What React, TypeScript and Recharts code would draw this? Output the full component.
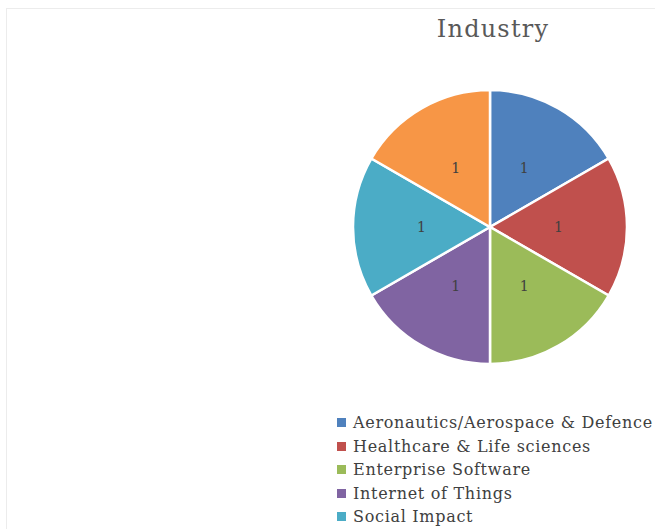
import * as React from "react"
import { PieChart, Pie, Cell } from "recharts"

const categories = [
  "Aeronautics/Aerospace & Defence",
  "Healthcare & Life sciences",
  "Enterprise Software",
  "Internet of Things",
  "Social Impact",
  "Fintech",
]
const counts = [1, 1, 1, 1, 1, 1]
const colors = ["#4F81BD", "#C0504D", "#9BBB59", "#8064A2", "#4BACC6", "#F79646"]

const data = categories.map((name, i) => ({ name, value: counts[i], color: colors[i] }))

const RAD = Math.PI / 180

function renderLabel(props: any) {
  const { cx, cy, midAngle, outerRadius, value } = props
  const r = outerRadius * 0.5
  const x = cx + r * Math.cos(-midAngle * RAD)
  const y = cy + r * Math.sin(-midAngle * RAD)
  return (
    <text x={x} y={y} fill="#404040" fontSize={14} fontFamily="DejaVu Serif" textAnchor="middle" dominantBaseline="central">
      {value}
    </text>
  )
}

// legend drawn as plain html so it doesn't shift the pie
function LegendList() {
  return (
    <div
      style={{
        position: "absolute",
        left: 337,
        top: 411,
        fontFamily: "DejaVu Serif",
        fontSize: 16,
        letterSpacing: 0.7,
        color: "#404040",
        whiteSpace: "nowrap",
      }}
    >
      {data.map((d) => (
        <div key={d.name} style={{ display: "flex", alignItems: "center", height: 23.5 }}>
          <div style={{ width: 9, height: 9, background: d.color, marginRight: 7 }} />
          <span>{d.name}</span>
        </div>
      ))}
    </div>
  )
}

export default function App() {
  return (
    <div style={{ position: "absolute", left: 0, top: 0, width: 655, height: 529, overflow: "hidden", background: "#fff" }}>
      <div style={{ position: "absolute", left: 6, top: 8, width: 660, height: 560, borderTop: "1px solid #ececec", borderLeft: "1px solid #ececec" }} />
      <PieChart width={655} height={529} style={{ position: "absolute", left: 0, top: 0 }}>
        <text x={493} y={29} textAnchor="middle" dominantBaseline="central" fontFamily="DejaVu Serif" fontSize={24} letterSpacing={1.2} fill="#595959">
          Industry
        </text>
        <Pie
          data={data}
          dataKey="value"
          cx={485}
          cy={222}
          outerRadius={137}
          startAngle={90}
          endAngle={-270}
          stroke="#ffffff"
          strokeWidth={2.5}
          label={renderLabel}
          labelLine={false}
          isAnimationActive={false}
        >
          {data.map((d, i) => (
            <Cell key={`cell-${i}`} fill={d.color} />
          ))}
        </Pie>
      </PieChart>
      <LegendList />
    </div>
  )
}
